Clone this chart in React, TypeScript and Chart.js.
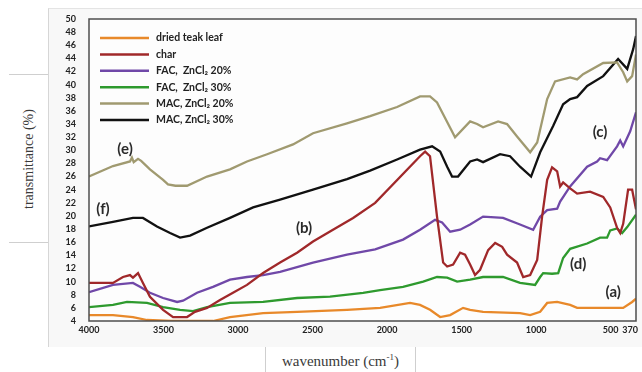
import React, { useEffect, useRef } from "react";
import { Chart, registerables } from "chart.js";

Chart.register(...registerables);

// ---------- data ----------
const seriesLabels = [
  "dried teak leaf",
  "char",
  "FAC,  ZnCl\u2082 20%",
  "FAC,  ZnCl\u2082 30%",
  "MAC, ZnCl\u2082 20%",
  "MAC, ZnCl\u2082 30%",
];
const seriesColors = ["#E8892A", "#A0282A", "#7048A8", "#2E9A2E", "#A09A70", "#111111"];

const teakLeafX = [4000, 3839, 3705, 3611, 3450, 3168, 3054, 2832, 2604, 2269, 2047, 1846, 1779, 1712, 1644, 1577, 1490, 1443, 1356, 1108, 1040, 973, 926, 859, 772, 725, 550, 416, 356, 330];
const teakLeafY = [4.9, 4.9, 4.6, 4.15, 4.0, 4.0, 4.6, 5.2, 5.4, 5.7, 6.0, 6.75, 6.45, 5.7, 4.6, 4.9, 6.0, 5.7, 5.4, 5.2, 4.9, 5.4, 6.75, 6.9, 6.45, 6.0, 6.0, 6.0, 6.9, 7.4];

const charX = [4000, 3839, 3772, 3725, 3705, 3671, 3638, 3591, 3503, 3436, 3342, 3289, 3208, 3121, 3034, 2940, 2832, 2718, 2604, 2497, 2363, 2228, 2080, 1779, 1745, 1712, 1665, 1624, 1597, 1557, 1510, 1477, 1443, 1410, 1376, 1322, 1275, 1228, 1195, 1128, 1087, 1040, 993, 960, 926, 893, 859, 839, 819, 772, 725, 638, 550, 503, 457, 436, 416, 383, 356, 330];
const charY = [9.8, 9.8, 10.7, 11.0, 10.6, 11.3, 9.8, 7.7, 5.7, 4.6, 4.6, 5.4, 6.0, 7.2, 8.3, 9.5, 11.3, 12.9, 14.4, 16.1, 17.9, 19.7, 22.0, 29.1, 29.8, 29.1, 19.9, 12.9, 12.3, 12.6, 14.4, 14.1, 12.6, 11.0, 11.8, 14.8, 15.9, 15.3, 14.1, 12.9, 10.7, 11.0, 13.3, 19.9, 25.5, 27.4, 26.8, 24.5, 25.1, 24.2, 23.4, 23.7, 22.9, 21.3, 18.2, 17.4, 18.8, 24.0, 24.0, 21.0];

const fac20X = [4000, 3839, 3705, 3658, 3591, 3503, 3409, 3369, 3275, 3168, 3054, 2940, 2832, 2718, 2497, 2269, 2080, 1893, 1779, 1678, 1631, 1577, 1510, 1443, 1356, 1222, 1108, 1020, 973, 926, 859, 839, 772, 658, 591, 571, 524, 457, 436, 416, 369, 330];
const fac20Y = [8.4, 9.5, 9.8, 9.2, 8.3, 7.5, 6.9, 7.1, 8.3, 9.2, 10.3, 10.7, 11.0, 11.5, 12.9, 14.1, 14.9, 16.4, 17.9, 19.4, 19.0, 17.6, 17.9, 18.7, 19.9, 19.7, 18.7, 17.9, 19.9, 20.9, 21.1, 22.2, 24.5, 27.5, 28.3, 28.8, 28.5, 30.6, 31.5, 30.6, 32.9, 35.8];

const fac30X = [4000, 3839, 3745, 3611, 3503, 3389, 3302, 3208, 3054, 2832, 2604, 2383, 2161, 2047, 1893, 1758, 1665, 1597, 1530, 1443, 1356, 1222, 1108, 1007, 973, 953, 893, 852, 819, 772, 658, 571, 524, 503, 457, 423, 389, 330];
const fac30Y = [6.1, 6.45, 6.9, 6.75, 6.1, 5.7, 5.5, 6.1, 6.75, 6.9, 7.5, 7.7, 8.3, 8.7, 9.2, 10.0, 10.7, 10.6, 10.0, 10.3, 10.7, 10.7, 9.8, 9.5, 10.7, 11.3, 11.2, 11.3, 13.6, 15.0, 15.8, 16.7, 16.7, 17.8, 18.1, 17.4, 18.3, 20.2];

const mac20X = [4000, 3839, 3725, 3712, 3700, 3671, 3650, 3591, 3503, 3470, 3420, 3342, 3208, 3054, 2940, 2805, 2631, 2497, 2269, 2114, 1933, 1779, 1712, 1665, 1597, 1544, 1443, 1396, 1356, 1255, 1195, 1128, 1040, 993, 926, 873, 772, 725, 685, 550, 457, 416, 389, 356, 330];
const mac20Y = [26.0, 27.6, 28.3, 28.9, 28.2, 28.7, 28.4, 27.1, 25.5, 24.8, 24.6, 24.6, 26.0, 27.1, 28.3, 29.4, 30.9, 32.6, 34.1, 35.2, 36.6, 38.2, 38.2, 37.3, 34.3, 32.0, 34.4, 34.0, 33.5, 34.4, 34.0, 32.1, 29.7, 31.2, 37.8, 40.5, 41.1, 40.8, 41.6, 43.3, 43.4, 41.9, 40.5, 41.3, 44.6];

const mac30X = [4000, 3839, 3705, 3638, 3544, 3456, 3389, 3322, 3208, 3054, 2899, 2718, 2497, 2269, 2114, 1933, 1779, 1698, 1644, 1597, 1564, 1524, 1443, 1396, 1356, 1242, 1175, 1108, 1034, 973, 886, 819, 772, 725, 658, 550, 450, 389, 349, 330];
const mac30Y = [18.4, 19.1, 19.7, 19.7, 18.4, 17.4, 16.7, 17.0, 18.2, 19.7, 21.3, 22.5, 24.0, 25.6, 26.9, 28.6, 30.1, 30.6, 29.8, 27.5, 26.0, 26.0, 28.3, 28.6, 28.2, 29.4, 29.1, 27.5, 26.0, 29.7, 33.7, 37.0, 37.8, 38.1, 39.8, 41.3, 43.9, 42.4, 45.4, 47.4];

const xTickValues = [4000, 3500, 3000, 2500, 2000, 1500, 1000, 500, 370];
const yMin = 4;
const yMax = 50;
const yStep = 2;

const curveTags = ["(a)", "(b)", "(c)", "(d)", "(e)", "(f)"];
const curveTagX = [483, 2557, 571, 718, 3758, 3906];
const curveTagY = [8.4, 18.1, 32.7, 12.6, 30.1, 21.0];

const seriesX = [teakLeafX, charX, fac20X, fac30X, mac20X, mac30X];
const seriesY = [teakLeafY, charY, fac20Y, fac30Y, mac20Y, mac30Y];

const TICK_FONT = "Lato, 'DejaVu Sans', sans-serif";

export default function App() {
  const ref = useRef<HTMLCanvasElement>(null);

  useEffect(() => {
    const canvas = ref.current;
    if (!canvas) return;

    const plotBg = {
      id: "plotBg",
      beforeDatasetsDraw(chart: any) {
        const { ctx, chartArea: a } = chart;
        ctx.save();
        ctx.fillStyle = "#fdfdfd";
        ctx.fillRect(a.left, a.top, a.right - a.left, a.bottom - a.top);
        ctx.restore();
      },
    };

    const overlay = {
      id: "overlay",
      afterDatasetsDraw(chart: any) {
        const { ctx, chartArea: a, scales } = chart;
        ctx.save();
        // frame
        ctx.strokeStyle = "#4d4d4d";
        ctx.lineWidth = 1.5;
        ctx.strokeRect(a.left, a.top, a.right - a.left, a.bottom - a.top);
        // legend
        ctx.font = `bold 10.5px ${TICK_FONT}`;
        ctx.textBaseline = "middle";
        ctx.textAlign = "left";
        chart.data.datasets.forEach((ds: any, i: number) => {
          const y = a.top + 19 + i * 16.4;
          ctx.strokeStyle = ds.borderColor;
          ctx.lineWidth = 2.5;
          ctx.beginPath();
          ctx.moveTo(a.left + 11, y);
          ctx.lineTo(a.left + 60, y);
          ctx.stroke();
          ctx.fillStyle = "#222";
          ctx.fillText(ds.label, a.left + 67, y);
        });
        // curve tags
        ctx.font = `bold 15px ${TICK_FONT}`;
        ctx.textAlign = "center";
        ctx.fillStyle = "#2b2b2b";
        curveTags.forEach((t, i) => {
          const px = scales.x.getPixelForValue(curveTagX[i]);
          const py = scales.y.getPixelForValue(curveTagY[i]);
          ctx.fillText(t, px, py);
        });
        ctx.restore();
      },
    };

    const chart = new Chart(canvas, {
      type: "line",
      data: {
        datasets: seriesX.map((xs, i) => ({
          label: seriesLabels[i],
          data: xs.map((x, j) => ({ x, y: seriesY[i][j] })),
          borderColor: seriesColors[i],
          backgroundColor: seriesColors[i],
          borderWidth: 2.3,
          pointRadius: 0,
          tension: 0,
          fill: false,
        })),
      },
      options: {
        animation: false,
        responsive: false,
        parsing: false as any,
        layout: { padding: { left: 0, top: 19, right: 6, bottom: 0 } },
        plugins: {
          legend: { display: false },
          tooltip: { enabled: false },
        },
        scales: {
          x: {
            type: "linear",
            reverse: true,
            min: 330,
            max: 4000,
            grid: { display: false, drawTicks: false },
            border: { display: false },
            afterBuildTicks: (axis: any) => {
              axis.ticks = xTickValues.map((v) => ({ value: v }));
            },
            afterFit: (axis: any) => {
              axis.height = 51;
            },
            ticks: {
              autoSkip: false,
              maxRotation: 0,
              padding: 4,
              color: "#222",
              font: { family: TICK_FONT, size: 9, weight: "bold" },
              callback: (v: any) => String(v),
            },
          },
          y: {
            type: "linear",
            min: yMin,
            max: yMax,
            grid: { display: false, drawTicks: false },
            border: { display: false },
            afterFit: (axis: any) => {
              axis.width = 89;
            },
            ticks: {
              stepSize: yStep,
              autoSkip: false,
              padding: 13,
              color: "#222",
              font: { family: TICK_FONT, size: 9, weight: "bold" },
            },
          },
        },
      },
      plugins: [plotBg, overlay],
    });

    return () => chart.destroy();
  }, []);

  return (
    <div
      style={{
        position: "fixed",
        left: 0,
        top: 0,
        width: 642,
        height: 372,
        background: "#ffffff",
        overflow: "hidden",
      }}
    >
      <div
        style={{
          position: "absolute",
          left: 48,
          top: 8,
          width: 594,
          height: 339,
          background: "#f8f8f8",
          borderLeft: "1px solid #d6d6d6",
          borderTop: "1px solid #e4e4e4",
          boxSizing: "border-box",
        }}
      />
      <div
        style={{
          position: "absolute",
          left: 9,
          top: 74,
          width: 39,
          height: 169,
          background: "#ffffff",
          borderTop: "1px solid #cfcfcf",
          borderBottom: "1px solid #cfcfcf",
          boxSizing: "border-box",
        }}
      >
        <div
          style={{
            position: "absolute",
            left: "50%",
            top: "50%",
            transform: "translate(-50%, -50%) rotate(-90deg)",
            whiteSpace: "nowrap",
            fontFamily: "'Liberation Serif', serif",
            fontSize: 14,
            color: "#3a3a3a",
          }}
        >
          transmittance (%)
        </div>
      </div>
      <div
        style={{
          position: "absolute",
          left: 265,
          top: 347,
          width: 151,
          height: 25,
          background: "#ffffff",
          borderLeft: "1px solid #cfcfcf",
          borderRight: "1px solid #cfcfcf",
          boxSizing: "border-box",
          textAlign: "center",
          fontFamily: "'Liberation Serif', serif",
          fontSize: 15,
          lineHeight: "28px",
          color: "#3a3a3a",
          whiteSpace: "nowrap",
        }}
      >
        wavenumber (cm
        <sup style={{ fontSize: 9, verticalAlign: "6px", lineHeight: 0 }}>-1</sup>)
      </div>
      <canvas
        ref={ref}
        width={642}
        height={372}
        style={{ position: "absolute", left: 0, top: 0, width: 642, height: 372 }}
      />
    </div>
  );
}
